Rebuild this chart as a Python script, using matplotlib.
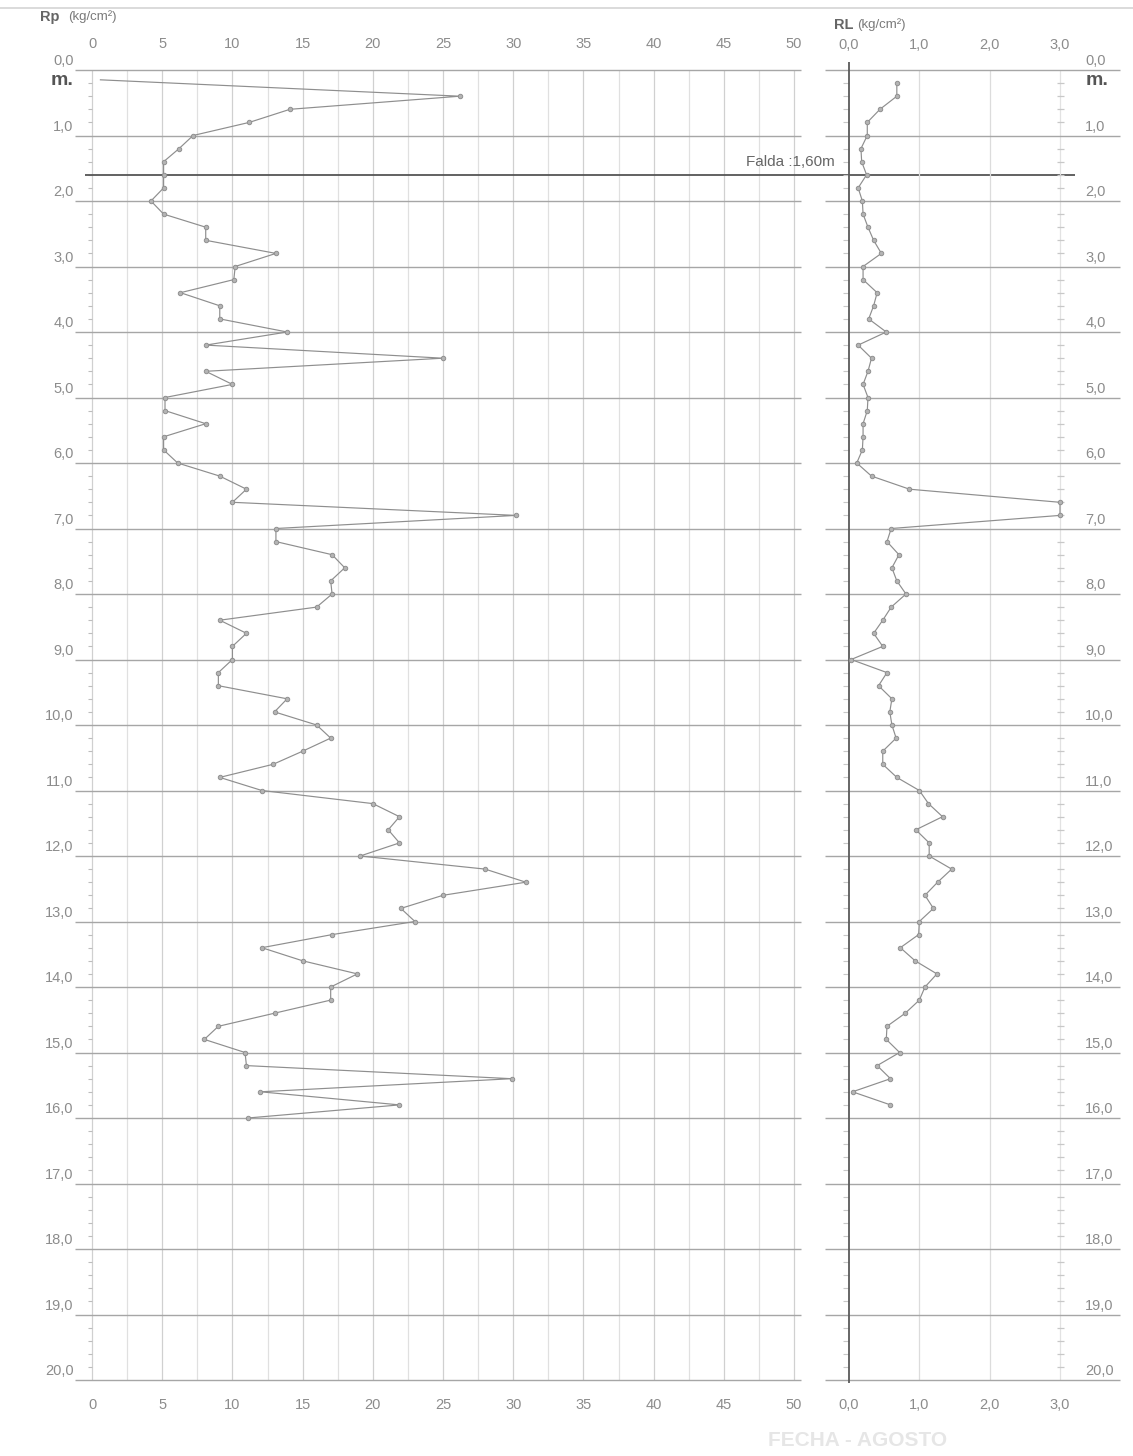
import matplotlib
matplotlib.use("Agg")
import matplotlib.pyplot as plt

plt.rcParams['font.family'] = ['Liberation Sans', 'DejaVu Sans']

# ---- data: cone resistance (Rp) and lateral friction (RL) vs depth (m) ----
rp_depth = [0.15, 0.4, 0.6, 0.8, 1.0, 1.2, 1.4, 1.6, 1.8, 2.0,
            2.2, 2.4, 2.6, 2.8, 3.0, 3.2, 3.4, 3.6, 3.8, 4.0,
            4.2, 4.4, 4.6, 4.8, 5.0, 5.2, 5.4, 5.6, 5.8, 6.0,
            6.2, 6.4, 6.6, 6.8, 7.0, 7.2, 7.4, 7.6, 7.8, 8.0,
            8.2, 8.4, 8.6, 8.8, 9.0, 9.2, 9.4, 9.6, 9.8, 10.0,
            10.2, 10.4, 10.6, 10.8, 11.0, 11.2, 11.4, 11.6, 11.8, 12.0,
            12.2, 12.4, 12.6, 12.8, 13.0, 13.2, 13.4, 13.6, 13.8, 14.0,
            14.2, 14.4, 14.6, 14.8, 15.0, 15.2, 15.4, 15.6, 15.8, 16.0]
rp_value = [0.6, 26.2, 14.1, 11.2, 7.2, 6.2, 5.1, 5.1, 5.1, 4.2,
            5.1, 8.1, 8.1, 13.1, 10.2, 10.1, 6.3, 9.1, 9.1, 13.9,
            8.1, 25.0, 8.1, 10.0, 5.2, 5.2, 8.1, 5.1, 5.1, 6.1,
            9.1, 11.0, 10.0, 30.2, 13.1, 13.1, 17.1, 18.0, 17.0, 17.1,
            16.0, 9.1, 11.0, 10.0, 10.0, 9.0, 9.0, 13.9, 13.0, 16.0,
            17.0, 15.0, 12.9, 9.1, 12.1, 20.0, 21.9, 21.1, 21.9, 19.1,
            28.0, 30.9, 25.0, 22.0, 23.0, 17.1, 12.1, 15.0, 18.9, 17.0,
            17.0, 13.0, 9.0, 8.0, 10.9, 11.0, 29.9, 12.0, 21.9, 11.1]

rl_depth = [0.2, 0.4, 0.6, 0.8, 1.0, 1.2, 1.4, 1.6, 1.8, 2.0,
            2.2, 2.4, 2.6, 2.8, 3.0, 3.2, 3.4, 3.6, 3.8, 4.0,
            4.2, 4.4, 4.6, 4.8, 5.0, 5.2, 5.4, 5.6, 5.8, 6.0,
            6.2, 6.4, 6.6, 6.8, 7.0, 7.2, 7.4, 7.6, 7.8, 8.0,
            8.2, 8.4, 8.6, 8.8, 9.0, 9.2, 9.4, 9.6, 9.8, 10.0,
            10.2, 10.4, 10.6, 10.8, 11.0, 11.2, 11.4, 11.6, 11.8, 12.0,
            12.2, 12.4, 12.6, 12.8, 13.0, 13.2, 13.4, 13.6, 13.8, 14.0,
            14.2, 14.4, 14.6, 14.8, 15.0, 15.2, 15.4, 15.6, 15.8]
rl_value = [0.68, 0.68, 0.44, 0.26, 0.26, 0.17, 0.18, 0.25, 0.13, 0.19,
            0.20, 0.27, 0.35, 0.46, 0.20, 0.20, 0.40, 0.35, 0.28, 0.53,
            0.13, 0.32, 0.27, 0.20, 0.27, 0.26, 0.20, 0.20, 0.19, 0.11,
            0.32, 0.86, 3.00, 3.00, 0.60, 0.54, 0.71, 0.61, 0.68, 0.81,
            0.60, 0.48, 0.35, 0.48, 0.03, 0.54, 0.42, 0.61, 0.58, 0.61,
            0.67, 0.48, 0.48, 0.68, 1.00, 1.13, 1.33, 0.95, 1.14, 1.14,
            1.46, 1.26, 1.08, 1.20, 1.00, 0.99, 0.73, 0.94, 1.25, 1.08,
            1.00, 0.80, 0.54, 0.53, 0.72, 0.40, 0.59, 0.05, 0.59]

rp_ticks = [0, 5, 10, 15, 20, 25, 30, 35, 40, 45, 50]
rp_tick_labels = ["0", "5", "10", "15", "20", "25", "30", "35", "40", "45", "50"]
rl_ticks = [0, 1, 2, 3]
rl_tick_labels = ["0,0", "1,0", "2,0", "3,0"]
depth_ticks = list(range(0, 21))
depth_labels = ["%d,0" % d for d in depth_ticks]
falda_depth = 1.6
falda_label = "Falda :1,60m"

# ---- figure layout (pixels) ----
W, H = 1133, 1456
fig = plt.figure(figsize=(W / 100, H / 100), dpi=100)
fig.patch.set_facecolor("white")

TOP, BOT = 70, 1380
L0, L1 = 92, 794
R0, R1 = 849, 1060


def frac_axes(x0, x1):
    return fig.add_axes([x0 / W, 1 - BOT / H, (x1 - x0) / W, (BOT - TOP) / H])


# background overlay in pixel space for sheet decorations
bg = fig.add_axes([0, 0, 1, 1])
bg.set_xlim(0, W)
bg.set_ylim(H, 0)
bg.axis("off")
bg.plot([0, W], [8, 8], color="#d4d4d4", lw=1.2)

axL = frac_axes(L0, L1)
axR = frac_axes(R0, R1)
for ax in (axL, axR):
    ax.set_ylim(20, 0)
    ax.axis("off")
    ax.patch.set_alpha(0)
axL.set_xlim(0, 50)
axR.set_xlim(0, 3)

tick_col = "#8c8c8c"
hline_col = "#a6a6a6"
fs = 10.5

# ---- left panel grid ----
for i in range(0, 21):
    x = i * 2.5
    col = "#d0d0d0" if i % 2 == 0 else "#e0e0e0"
    axL.vlines(x, 0, 20, color=col, lw=0.9, clip_on=False)
for d in depth_ticks:
    axL.hlines(d, -1.2, 50.5, color=hline_col, lw=1.0, clip_on=False)
# small depth ticks along the Rp = 0 line
for k in range(1, 100):
    d = k * 0.2
    if abs(d - round(d)) > 1e-6:
        axL.hlines(d, -0.3, 0.0, color="#bdbdbd", lw=0.8, clip_on=False)

# ---- right panel grid ----
for x in [1, 2]:
    axR.vlines(x, 0, 20, color="#dcdcdc", lw=0.9, clip_on=False)
axR.vlines(3, 0, 20, color="#e2e2e2", lw=0.9, clip_on=False)
for d in depth_ticks:
    axR.hlines(d, -0.34, 3.85, color=hline_col, lw=1.0, clip_on=False)
for k in range(1, 100):
    d = k * 0.2
    if abs(d - round(d)) > 1e-6:
        axR.hlines(d, 2.96, 3.06, color="#c8c8c8", lw=0.9, clip_on=False)
        axR.hlines(d, -0.08, 0.0, color="#c8c8c8", lw=0.8, clip_on=False)
axR.vlines(0, -0.12, 20.05, color="#5a5a5a", lw=1.3, clip_on=False)

# ---- water table ----
axL.hlines(falda_depth, -0.5, 70.0, color="#555555", lw=1.3, clip_on=False, zorder=4)
axR.text(-0.2, falda_depth - 0.2, falda_label, ha="right", va="center",
         fontsize=11, color="#666666")

# ---- data ----
line_kw = dict(color="#8e8e8e", lw=0.85, zorder=5, clip_on=False)
mark_kw = dict(ls="none", marker="o", ms=3.2, mfc="#b4b4b4", mec="#909090",
               mew=0.7, zorder=6, clip_on=False)
axL.plot(rp_value, rp_depth, **line_kw)
axL.plot(rp_value[1:], rp_depth[1:], **mark_kw)
axR.plot(rl_value, rl_depth, **line_kw)
axR.plot(rl_value, rl_depth, **mark_kw)

# ---- tick labels ----
for v, s in zip(rp_ticks, rp_tick_labels):
    axL.text(v, -0.4, s, ha="center", va="center", fontsize=fs, color=tick_col)
    axL.text(v, 20.38, s, ha="center", va="center", fontsize=fs, color=tick_col)
for v, s in zip(rl_ticks, rl_tick_labels):
    axR.text(v, -0.38, s, ha="center", va="center", fontsize=fs, color=tick_col)
    axR.text(v, 20.38, s, ha="center", va="center", fontsize=fs, color=tick_col)

for d, s in zip(depth_ticks, depth_labels):
    axL.text(-1.3, d - 0.03, s, ha="right", va="bottom", fontsize=fs, color=tick_col)
    axR.text(3.36, d - 0.03, s, ha="left", va="bottom", fontsize=fs, color=tick_col)

# metre markers under the 0,0 labels
axL.text(-1.3, 0.16, "m.", ha="right", va="center", fontsize=14,
         fontweight="bold", color="#555555")
axR.text(3.36, 0.16, "m.", ha="left", va="center", fontsize=14,
         fontweight="bold", color="#555555")

# ---- headers ----
bg.text(40, 17, "Rp", ha="left", va="center", fontsize=10.5,
        fontweight="bold", color="#666666")
bg.text(68, 17, "(kg/cm\u00b2)", ha="left", va="center", fontsize=9.5, color="#7a7a7a")
bg.text(834, 25, "RL", ha="left", va="center", fontsize=10.5,
        fontweight="bold", color="#666666")
bg.text(857, 25, "(kg/cm\u00b2)", ha="left", va="center", fontsize=9.5, color="#7a7a7a")

# stamp at the foot of the sheet
bg.text(858, 1440, "FECHA - AGOSTO", ha="center", va="center", fontsize=15,
        fontweight="bold", color="#e6e6e6")

fig.savefig("out.png", dpi=100, facecolor="white")
